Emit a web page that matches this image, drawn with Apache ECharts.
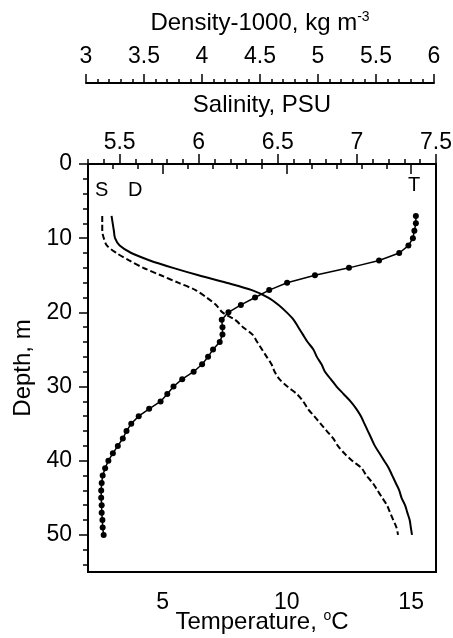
<!DOCTYPE html>
<html>
<head>
<meta charset="utf-8">
<script src="https://cdn.jsdelivr.net/npm/echarts@6/dist/echarts.min.js"></script>
<style>
  html, body { margin: 0; padding: 0; background: #fff; }
  #content_data { width: 453px; height: 638px; }
</style>
</head>
<body>
<div id="content_data"></div>
<script>
// depth levels (m), 1 m steps from 7 to 50
const depth = [7, 8, 9, 10, 11, 12, 13, 14, 15, 16, 17, 18, 19, 20, 21, 22, 23, 24, 25, 26, 27, 28,
  29, 30, 31, 32, 33, 34, 35, 36, 37, 38, 39, 40, 41, 42, 43, 44, 45, 46, 47, 48, 49, 50];

const temperature = [15.19, 15.19, 15.13, 15.07, 14.89, 14.52, 13.71, 12.5, 11.13, 10.01, 9.29, 8.72,
  8.15, 7.65, 7.38, 7.41, 7.41, 7.30, 7.03, 6.83, 6.59, 6.25, 5.79, 5.44, 5.19, 4.92, 4.46, 4.04,
  3.74, 3.55, 3.40, 3.20, 3.0, 2.82, 2.69, 2.59, 2.55, 2.53, 2.53, 2.55, 2.55, 2.58, 2.59, 2.63];

const salinity = [5.39, 5.39, 5.39, 5.40, 5.42, 5.48, 5.56, 5.65, 5.76, 5.87, 5.98, 6.05, 6.11, 6.15,
  6.23, 6.28, 6.34, 6.37, 6.40, 6.43, 6.46, 6.48, 6.51, 6.56, 6.62, 6.66, 6.69, 6.73, 6.77, 6.81,
  6.85, 6.88, 6.92, 6.97, 7.03, 7.06, 7.10, 7.13, 7.16, 7.19, 7.21, 7.23, 7.25, 7.26];

const density = [3.22, 3.23, 3.24, 3.25, 3.29, 3.39, 3.55, 3.75, 3.97, 4.21, 4.43, 4.57, 4.66, 4.73,
  4.79, 4.83, 4.87, 4.91, 4.96, 4.99, 5.03, 5.06, 5.11, 5.16, 5.22, 5.28, 5.33, 5.37, 5.40, 5.43,
  5.46, 5.49, 5.53, 5.57, 5.61, 5.64, 5.67, 5.70, 5.72, 5.75, 5.77, 5.79, 5.80, 5.81];

// tick labels / tick positions
const depthLabels = [0, 10, 20, 30, 40, 50];
const depthMinor = [0, 2, 4, 6, 8, 10, 12, 14, 16, 18, 20, 22, 24, 26, 28, 30, 32, 34, 36, 38, 40,
  42, 44, 46, 48, 50, 52, 54];
const tempLabels = [5, 10, 15];
const tempMinor = [2, 3, 4, 5, 6, 7, 8, 9, 10, 11, 12, 13, 14, 15, 16];
const salLabels = [5.5, 6, 6.5, 7, 7.5];
const salMinor = [5.3, 5.4, 5.5, 5.6, 5.7, 5.8, 5.9, 6, 6.1, 6.2, 6.3, 6.4, 6.5, 6.6, 6.7, 6.8,
  6.9, 7, 7.1, 7.2, 7.3, 7.4, 7.5];
const denLabels = [3, 3.5, 4, 4.5, 5, 5.5, 6];
const denMinor = [3, 3.1, 3.2, 3.3, 3.4, 3.5, 3.6, 3.7, 3.8, 3.9, 4, 4.1, 4.2, 4.3, 4.4, 4.5, 4.6,
  4.7, 4.8, 4.9, 5, 5.1, 5.2, 5.3, 5.4, 5.5, 5.6, 5.7, 5.8, 5.9, 6];

const pair = (xs) => xs.map((v, i) => [v, depth[i]]);

const FONT = 'Liberation Sans';
const BLACK = '#000';
const lab = { color: BLACK, fontFamily: FONT, fontSize: 23 };
const nameStyle = {
  color: BLACK, fontFamily: FONT, fontSize: 24,
  rich: { sup: { fontSize: 14, fontFamily: FONT, color: BLACK, padding: [0, 0, 12, 0] } }
};
const line = { show: true, lineStyle: { color: BLACK, width: 2 } };
const noLine = { show: false };

let Chart = echarts.init(document.getElementById('content_data'), null, { renderer: 'canvas' });

Chart.setOption({
  backgroundColor: '#fff',
  animation: false,
  grid: [
    { left: 88, top: 164, width: 348, height: 408, show: true, borderColor: BLACK, borderWidth: 2,
      outerBoundsMode: 'none', containLabel: false },
    { left: 86, top: 83, width: 348, height: 0, outerBoundsMode: 'none', containLabel: false }
  ],
  xAxis: [
    { // temperature
      type: 'value', gridIndex: 0, position: 'bottom', min: 2, max: 16,
      axisLine: line, splitLine: noLine,
      axisTick: { customValues: tempMinor, length: 5, lineStyle: { color: BLACK, width: 1.5 } },
      axisLabel: { ...lab, customValues: tempLabels, margin: 19 },
      name: 'Temperature, {sup|o}C', nameLocation: 'middle', nameGap: 37, nameMoveOverlap: false,
      nameTextStyle: nameStyle
    },
    { // temperature major ticks
      type: 'value', gridIndex: 0, position: 'bottom', min: 2, max: 16,
      axisLine: noLine, splitLine: noLine, axisLabel: noLine,
      axisTick: { customValues: tempLabels, length: 10, lineStyle: { color: BLACK, width: 1.5 } }
    },
    { // salinity
      type: 'value', gridIndex: 0, position: 'top', min: 5.3, max: 7.5,
      axisLine: line, splitLine: noLine,
      axisTick: { customValues: salMinor, length: 5, lineStyle: { color: BLACK, width: 1.5 } },
      axisLabel: { ...lab, customValues: salLabels, margin: 10 },
      name: 'Salinity, PSU', nameLocation: 'middle', nameGap: 47,
      nameTextStyle: nameStyle
    },
    { // salinity major ticks
      type: 'value', gridIndex: 0, position: 'top', min: 5.3, max: 7.5,
      axisLine: noLine, splitLine: noLine, axisLabel: noLine,
      axisTick: { customValues: salLabels, length: 10, lineStyle: { color: BLACK, width: 1.5 } }
    },
    { // density scale inside the plot
      type: 'value', gridIndex: 0, position: 'top', min: 3.017, max: 6.017, show: false
    },
    { // density axis above
      type: 'value', gridIndex: 1, position: 'top', min: 3, max: 6,
      axisLine: line, splitLine: noLine,
      axisTick: { customValues: denMinor, length: 4, lineStyle: { color: BLACK, width: 1.5 } },
      axisLabel: { ...lab, customValues: denLabels, margin: 15 },
      name: 'Density-1000, kg m{sup|-3}', nameLocation: 'middle', nameGap: 47,
      nameTextStyle: nameStyle
    },
    { // density major ticks
      type: 'value', gridIndex: 1, position: 'top', min: 3, max: 6,
      axisLine: noLine, splitLine: noLine, axisLabel: noLine,
      axisTick: { customValues: denLabels, length: 9, lineStyle: { color: BLACK, width: 1.5 } }
    }
  ],
  yAxis: [
    { // depth
      type: 'value', gridIndex: 0, inverse: true, min: 0, max: 55,
      axisLine: line, splitLine: noLine,
      axisTick: { customValues: depthMinor, length: 5, lineStyle: { color: BLACK, width: 1.5 } },
      axisLabel: { ...lab, customValues: depthLabels, margin: 16 },
      name: 'Depth, m', nameLocation: 'middle', nameGap: 53, nameRotate: 90,
      nameTextStyle: nameStyle
    },
    { // depth major ticks
      type: 'value', gridIndex: 0, inverse: true, min: 0, max: 55,
      position: 'left',
      axisLine: noLine, splitLine: noLine, axisLabel: noLine,
      axisTick: { customValues: depthLabels, length: 9, lineStyle: { color: BLACK, width: 1.5 } }
    },
    { type: 'value', gridIndex: 1, min: 0, max: 1, show: false }
  ],
  series: [
    {
      name: 'T', type: 'line', xAxisIndex: 0, yAxisIndex: 0,
      data: pair(temperature),
      symbol: 'circle', symbolSize: 6, showSymbol: true,
      itemStyle: { color: BLACK },
      lineStyle: { color: BLACK, width: 1.5 }
    },
    {
      name: 'S', type: 'line', xAxisIndex: 2, yAxisIndex: 0,
      data: pair(salinity), smooth: 0.3, showSymbol: false,
      lineStyle: { color: BLACK, width: 2, type: [6, 3] }
    },
    {
      name: 'D', type: 'line', xAxisIndex: 4, yAxisIndex: 0,
      data: pair(density), smooth: 0.3, showSymbol: false,
      lineStyle: { color: BLACK, width: 2 }
    }
  ],
  graphic: [
    { type: 'text', left: 95, top: 180, style: { text: 'S', fill: BLACK, font: '20px "Liberation Sans"' } },
    { type: 'text', left: 128, top: 180, style: { text: 'D', fill: BLACK, font: '20px "Liberation Sans"' } },
    { type: 'text', left: 408, top: 175, style: { text: 'T', fill: BLACK, font: '20px "Liberation Sans"' } }
  ]
});
</script>
</body>
</html>
